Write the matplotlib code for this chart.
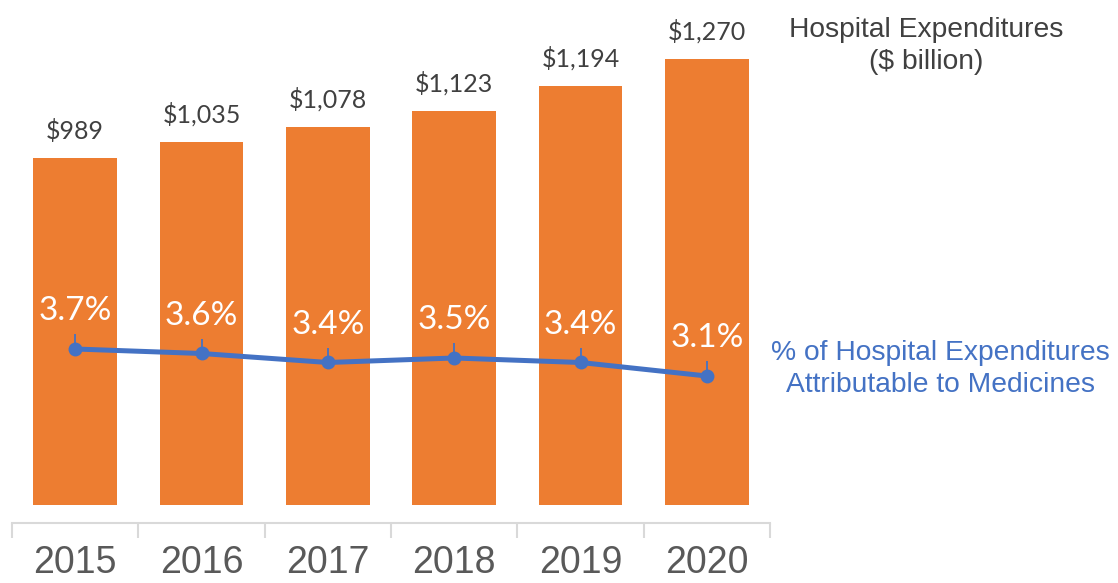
import matplotlib.pyplot as plt
import numpy as np

years = ["2015", "2016", "2017", "2018", "2019", "2020"]
spend = [989, 1035, 1078, 1123, 1194, 1270]
pct = [3.7, 3.6, 3.4, 3.5, 3.4, 3.1]

orange = "#ED7D31"
blue = "#4472C4"

fig = plt.figure(figsize=(11.18, 5.83), dpi=100)
ax = fig.add_axes([12 / 1118, 60 / 583, 758 / 1118, 523 / 583])
x = np.arange(len(years))

ax.bar(x, spend, width=0.66, color=orange, zorder=2)
for xi, v in zip(x, spend):
    ax.annotate(f"${v:,}", (xi, v), xytext=(0, 11), textcoords="offset points",
                ha="center", va="bottom", fontsize=18, family="Lato", color="#404040")

ax.set_xlim(-0.5, len(years) - 0.5)
ax.set_ylim(-51, 1439)
ax.set_yticks([])
ax.set_xticks(x)
ax.set_xticklabels(years, fontsize=27, color="#595959", family="Liberation Sans")
ax.tick_params(axis="x", which="major", length=0, pad=16)
ax.set_xticks(np.arange(-0.5, len(years)), minor=True)
ax.tick_params(axis="x", which="minor", length=11, width=1.5, color="#D9D9D9")
for s in ["top", "right", "left"]:
    ax.spines[s].set_visible(False)
ax.spines["bottom"].set_color("#D9D9D9")
ax.spines["bottom"].set_linewidth(1.5)

ax2 = ax.twinx()
ax2.set_ylim(-0.167, 11.456)
ax2.axis("off")
ax2.plot(x, pct, color=blue, lw=3.6, marker="o", markersize=9, zorder=3)
ax2.vlines(x, pct, np.array(pct) + 0.33, color=blue, lw=1.3)
for xi, p in zip(x, pct):
    ax2.annotate(f"{p:.1f}%", (xi, p), xytext=(0, 27), textcoords="offset points",
                 ha="center", va="center", fontsize=24, family="Lato", color="white")

fig.text(926 / 1118, 1 - 46 / 583, "Hospital Expenditures\n($ billion)", ha="center", va="center",
         fontsize=20.3, family="Liberation Sans", color="#404040", linespacing=1.27)
fig.text(940 / 1118, 1 - 369 / 583, "% of Hospital Expenditures\nAttributable to Medicines", ha="center",
         va="center", fontsize=20.3, family="Liberation Sans", color=blue, linespacing=1.27)

fig.savefig("out.png")
